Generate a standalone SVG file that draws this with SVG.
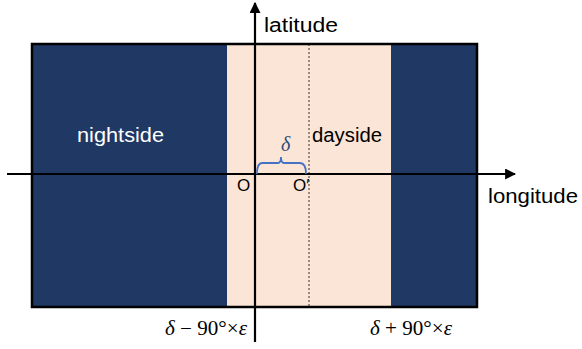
<svg xmlns="http://www.w3.org/2000/svg" width="582" height="349" viewBox="0 0 582 349">
<style>
.t{font-family:"Liberation Sans",Arial,sans-serif;font-size:20px;fill:#000}
.m{font-family:"Liberation Serif","Times New Roman",serif;font-size:20px;fill:#000}
.ax{stroke:#000;stroke-width:2.2;fill:none}
</style>
<defs>
<marker id="ah" viewBox="0 0 10 10" refX="9" refY="5" markerWidth="5" markerHeight="5" orient="auto" markerUnits="strokeWidth">
<path d="M0,0 L10,5 L0,10 z" fill="#000"/>
</marker>
</defs>
<rect width="582" height="349" fill="#fff"/>
<g id="map">
<rect x="32" y="44" width="445" height="263" fill="#203864"/>
<rect x="227" y="44" width="164" height="263" fill="#FBE5D6"/>
<rect x="32" y="44" width="445" height="263" fill="none" stroke="#000" stroke-width="2.5"/>
<line x1="309" y1="44" x2="309" y2="307" stroke="#000" stroke-width="0.8" stroke-dasharray="2,2"/>
</g>
<g id="connectors">
<line class="ax" x1="7" y1="174" x2="515" y2="174" marker-end="url(#ah)"/>
<line class="ax" x1="255" y1="342" x2="255" y2="3" marker-end="url(#ah)"/>
<path d="M257,174 Q257,163 262,163 L278,163 Q281,163 281,157 Q281,163 284,163 L300,163 Q306,163 306,174" fill="none" stroke="#4472C4" stroke-width="1.8"/>
</g>
<g id="labels">
<text class="t" x="264" y="32" textLength="74" lengthAdjust="spacingAndGlyphs">latitude</text>
<text class="t" x="488" y="203" textLength="90" lengthAdjust="spacingAndGlyphs">longitude</text>
<text class="t" x="77" y="142" style="fill:#fff" textLength="87" lengthAdjust="spacingAndGlyphs">nightside</text>
<text class="t" x="312" y="142" textLength="70" lengthAdjust="spacingAndGlyphs">dayside</text>
<text class="t" x="237" y="191" style="font-size:17px">O</text>
<text class="t" x="293" y="191" style="font-size:17px">O′</text>
<text class="m" x="281" y="151" font-style="italic" style="fill:#2F4A7A">δ</text>
<text class="m" x="165" y="335" textLength="82" lengthAdjust="spacingAndGlyphs"><tspan font-style="italic">δ</tspan> − 90°×<tspan font-style="italic">ε</tspan></text>
<text class="m" x="370" y="335" textLength="82" lengthAdjust="spacingAndGlyphs"><tspan font-style="italic">δ</tspan> + 90°×<tspan font-style="italic">ε</tspan></text>
</g>
</svg>
